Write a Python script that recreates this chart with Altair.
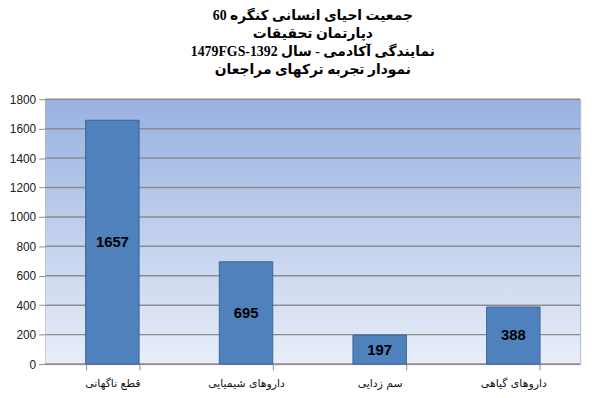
import altair as alt
import pandas as pd

categories = ["قطع ناگهانی", "داروهای شیمیایی", "سم زدایی", "داروهای گیاهی"]
values = [1657, 695, 197, 388]
y_ticks = [0, 200, 400, 600, 800, 1000, 1200, 1400, 1600, 1800]
title_lines = [
    "\u202Bجمعیت احیای انسانی کنگره \u206660\u2069\u202C",
    "دپارتمان تحقیقات",
    "\u202Bنمایندگی آکادمی - سال \u20661479FGS-1392\u2069\u202C",
    "نمودار تجربه ترکهای مراجعان",
]

df = pd.DataFrame({"cat": categories, "val": values})
grid_df = pd.DataFrame({"v": y_ticks})

y_scale = alt.Scale(domain=[0, 1800], nice=False)
y_axis = alt.Axis(
    title=None, values=y_ticks, format="d", grid=False, domainColor="#8c8c8c",
    tickColor="#8c8c8c", tickSize=7, labelFontSize=12, labelColor="#222",
    labelFont="Liberation Sans", labelPadding=3,
)
x_enc = alt.X(
    "cat:N",
    sort=categories,
    scale=alt.Scale(paddingInner=0.6, paddingOuter=0.3),
    axis=alt.Axis(
        title=None, labelAngle=0, tickBand="extent", domainColor="#8c8c8c",
        tickColor="#8c8c8c", tickSize=6, labelPadding=8, labelFontSize=11,
        labelColor="#111", labelFont="DejaVu Sans", grid=False,
    ),
)

gradient = alt.Gradient(
    gradient="linear",
    stops=[alt.GradientStop(color="#98b1e0", offset=0),
           alt.GradientStop(color="#e8eef9", offset=1)],
    x1=0, x2=0, y1=0, y2=1,
)

bg = alt.Chart().mark_rect(color=gradient).encode(
    y=alt.datum(1800, scale=y_scale, axis=y_axis),
    y2=alt.datum(0),
)

grid = alt.Chart(grid_df).mark_rule(color="#8c8c8c", strokeWidth=1.5).encode(
    y=alt.Y("v:Q", scale=y_scale, axis=y_axis)
)

bars = alt.Chart(df).mark_bar(color="#4f81bd", stroke="#3a6699", strokeWidth=1).encode(
    x=x_enc,
    y=alt.Y("val:Q", scale=y_scale, axis=y_axis),
)

labels = alt.Chart(df).transform_calculate(mid="datum.val / 2").mark_text(
    fontWeight="bold", fontSize=15, font="Liberation Sans", color="#000"
).encode(
    x=alt.X("cat:N", sort=categories),
    y=alt.Y("mid:Q", scale=y_scale, axis=y_axis),
    text="val:Q",
)

chart = alt.layer(bg, grid, bars, labels).properties(
    width=541,
    height=268,
    padding={"left": 38, "top": 90, "right": 12, "bottom": 30},
    autosize=alt.AutoSizeParams(type="none"),
    title=alt.Title(
        text=title_lines, fontSize=14, fontWeight="bold",
        font="Liberation Serif, DejaVu Sans",
        lineHeight=18, anchor="middle", offset=17, color="#000",
    ),
).configure_view(stroke="#b0b0b0", strokeWidth=1)

chart.save("out.html", embed_options={"renderer": "svg", "actions": False})
